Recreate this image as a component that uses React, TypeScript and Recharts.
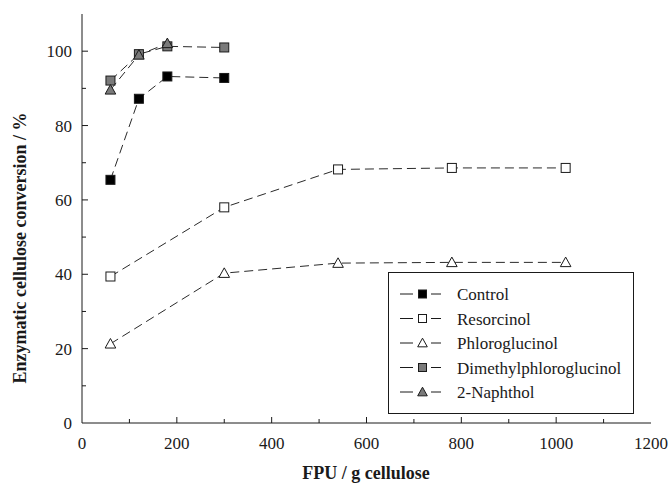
import { LineChart, Line, XAxis, YAxis, Legend } from 'recharts';

// FPU loadings (x) and conversion values (%)
const fpuShort = [60, 120, 180, 300];
const fpuLong = [60, 300, 540, 780, 1020];
const fpuNaphthol = [60, 120, 180];

const control = [65.4, 87.2, 93.2, 92.8];
const resorcinol = [39.4, 58.0, 68.2, 68.6, 68.6];
const phloroglucinol = [21.3, 40.3, 43.0, 43.2, 43.2];
const dimethylphloroglucinol = [92.1, 99.2, 101.3, 101.0];
const naphthol = [89.6, 99.0, 102.1];

const xTicks = [0, 100, 200, 300, 400, 500, 600, 700, 800, 900, 1000, 1100, 1200];
const yTicks = [0, 10, 20, 30, 40, 50, 60, 70, 80, 90, 100, 110];

const FONT = "'Liberation Serif', 'DejaVu Serif', serif";
const INK = '#1a1a1a';
const GRAY = '#7a7a7a';

const txt = { fontFamily: FONT, fontSize: 17 };
const title = { fontFamily: FONT, fontSize: 18, fontWeight: 'bold' as const };

type Shape = 'square' | 'triangle';

const zip = (xs: number[], ys: number[]) => xs.map((x, i) => ({ x, y: ys[i] }));

const series = [
  { name: 'Control', data: zip(fpuShort, control), shape: 'square' as Shape, fill: '#000' },
  { name: 'Resorcinol', data: zip(fpuLong, resorcinol), shape: 'square' as Shape, fill: '#fff' },
  { name: 'Phloroglucinol', data: zip(fpuLong, phloroglucinol), shape: 'triangle' as Shape, fill: '#fff' },
  { name: 'Dimethylphloroglucinol', data: zip(fpuShort, dimethylphloroglucinol), shape: 'square' as Shape, fill: GRAY },
  { name: '2-Naphthol', data: zip(fpuNaphthol, naphthol), shape: 'triangle' as Shape, fill: GRAY },
];

function Marker({ cx, cy, shape, fill, size = 9 }: { cx: number; cy: number; shape: Shape; fill: string; size?: number }) {
  const h = size / 2;
  if (shape === 'square') {
    return <rect x={cx - h} y={cy - h} width={size} height={size} fill={fill} stroke={INK} strokeWidth={1} />;
  }
  const t = h + 0.8;
  return (
    <polygon
      points={`${cx},${cy - t} ${cx + t},${cy + t * 0.8} ${cx - t},${cy + t * 0.8}`}
      fill={fill}
      stroke={INK}
      strokeWidth={1}
    />
  );
}

const makeDot = (shape: Shape, fill: string) => (props: any) => {
  const { cx, cy, index } = props;
  if (cx == null || cy == null) return <g key={index} />;
  return <Marker key={index} cx={cx} cy={cy} shape={shape} fill={fill} />;
};

const BottomTick = (props: any) => {
  const { x, y, payload } = props;
  const v = payload.value;
  const major = v % 200 === 0;
  return (
    <g>
      {v !== 0 && v !== 1200 && (
        <line x1={x} y1={y} x2={x} y2={y - (major ? 6 : 4)} stroke={INK} />
      )}
      {major && (
        <text x={x} y={y + 26} textAnchor="middle" style={txt} fill={INK}>
          {v}
        </text>
      )}
    </g>
  );
};

const TopTick = (props: any) => {
  const { x, y, payload } = props;
  const v = payload.value;
  if (v === 0 || v === 1200) return <g />;
  return <line x1={x} y1={y} x2={x} y2={y + (v % 200 === 0 ? 6 : 4)} stroke={INK} />;
};

const LeftTick = (props: any) => {
  const { x, y, payload } = props;
  const v = payload.value;
  const major = v % 20 === 0;
  return (
    <g>
      {v !== 0 && v !== 110 && (
        <line x1={x} y1={y} x2={x + (major ? 6 : 4)} y2={y} stroke={INK} />
      )}
      {major && v <= 100 && (
        <text x={x - 10} y={y + 6} textAnchor="end" style={txt} fill={INK}>
          {v}
        </text>
      )}
    </g>
  );
};

const RightTick = (props: any) => {
  const { x, y, payload } = props;
  const v = payload.value;
  if (v === 0 || v === 110) return <g />;
  return <line x1={x} y1={y} x2={x - (v % 20 === 0 ? 6 : 4)} y2={y} stroke={INK} />;
};

const LegendBox = () => (
  <svg width={247} height={143} style={{ display: 'block' }}>
    <rect x={0.5} y={0.5} width={245} height={141} fill="#fff" stroke={INK} />
    {series.map((s, i) => {
      const cy = 22 + i * 24.5;
      return (
        <g key={s.name}>
          <line x1={12} y1={cy} x2={25} y2={cy} stroke={INK} />
          <line x1={43} y1={cy} x2={53} y2={cy} stroke={INK} />
          <Marker cx={34.5} cy={cy} shape={s.shape} fill={s.fill} size={8} />
          <text x={69} y={cy + 6} style={txt} fill={INK}>
            {s.name}
          </text>
        </g>
      );
    })}
  </svg>
);

export default function App() {
  return (
    <div style={{ position: 'absolute', left: 0, top: 0, width: 671, height: 485, background: '#fff', fontFamily: FONT }}>
      <LineChart width={671} height={485} margin={{ top: 14, right: 20, left: 0, bottom: 0 }}>
        <XAxis
          xAxisId="bottom"
          type="number"
          dataKey="x"
          domain={[0, 1200]}
          ticks={xTicks}
          interval={0}
          height={62}
          tickSize={0}
          tickMargin={0}
          tickLine={false}
          axisLine={{ stroke: INK }}
          tick={<BottomTick />}
          allowDuplicatedCategory={false}
        />
        <XAxis
          xAxisId="top"
          orientation="top"
          type="number"
          dataKey="x"
          domain={[0, 1200]}
          ticks={xTicks}
          interval={0}
          height={0}
          tickSize={0}
          tickMargin={0}
          tickLine={false}
          axisLine={{ stroke: INK }}
          tick={<TopTick />}
        />
        <YAxis
          yAxisId="left"
          type="number"
          domain={[0, 110]}
          ticks={yTicks}
          interval={0}
          width={82}
          tickSize={0}
          tickMargin={0}
          tickLine={false}
          axisLine={{ stroke: INK }}
          tick={<LeftTick />}
        />
        <YAxis
          yAxisId="right"
          orientation="right"
          type="number"
          domain={[0, 110]}
          ticks={yTicks}
          interval={0}
          width={0}
          tickSize={0}
          tickMargin={0}
          tickLine={false}
          axisLine={{ stroke: INK }}
          tick={<RightTick />}
        />
        {series.map((s) => (
          <Line
            key={s.name}
            xAxisId="bottom"
            yAxisId="left"
            data={s.data}
            dataKey="y"
            name={s.name}
            stroke="#2a2a2a"
            strokeWidth={1}
            strokeDasharray="9 5"
            dot={makeDot(s.shape, s.fill)}
            activeDot={false}
            isAnimationActive={false}
          />
        ))}
        <Legend
          layout="vertical"
          align="center"
          verticalAlign="middle"
          content={() => <LegendBox />}
          wrapperStyle={{ left: 388, top: 272, width: 247, height: 143 }}
        />
        <text x={366} y={479} textAnchor="middle" style={title} fill={INK}>
          FPU / g cellulose
        </text>
        <text x={26} y={248} textAnchor="middle" transform="rotate(-90 26 248)" style={title} fill={INK}>
          Enzymatic cellulose conversion / %
        </text>
      </LineChart>
    </div>
  );
}
